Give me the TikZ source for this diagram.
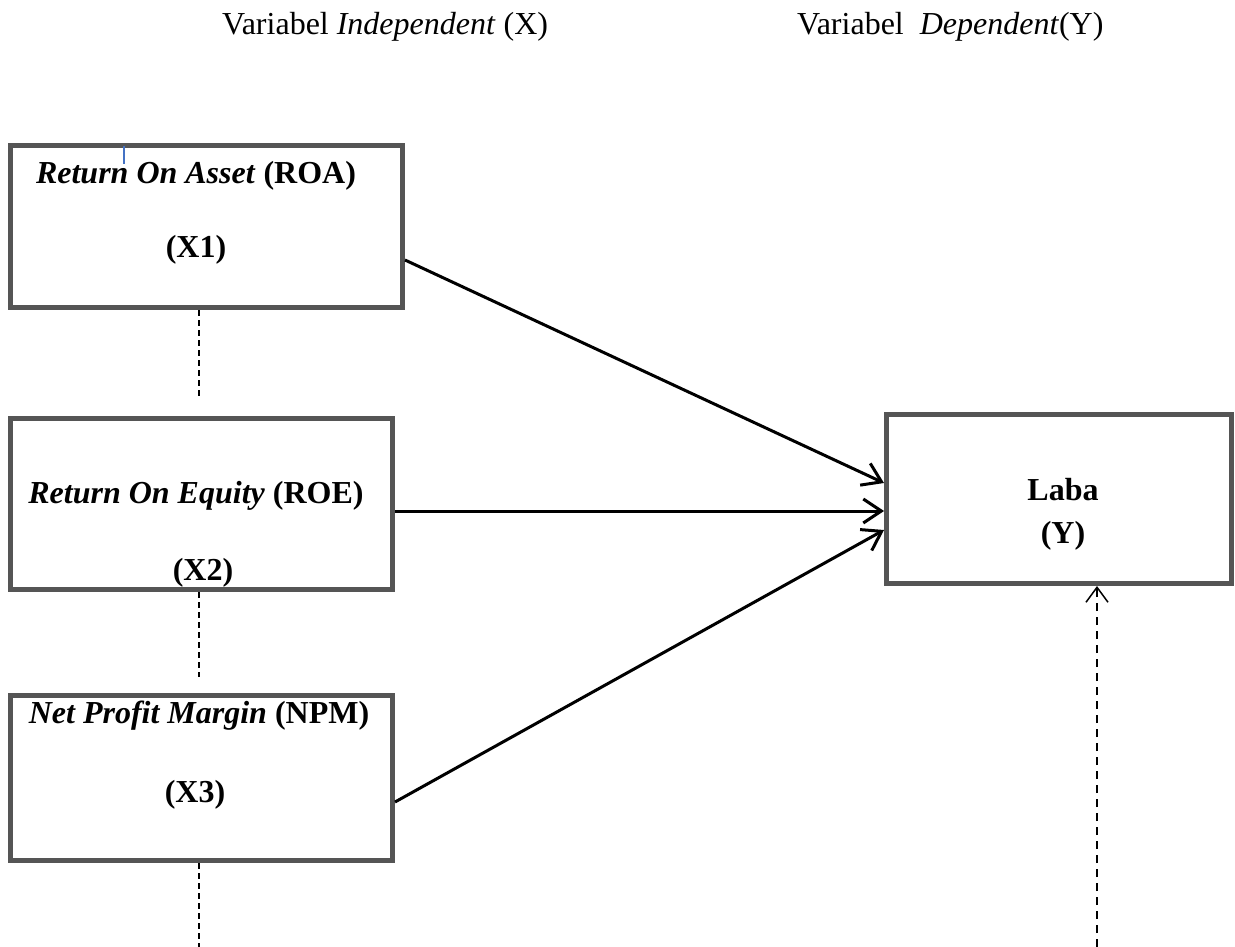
\documentclass[tikz,border=0pt]{standalone}
\usepackage{fontspec}
\setmainfont{Liberation Serif}
\usetikzlibrary{arrows.meta,calc}
\definecolor{boxgray}{RGB}{85,85,85}
\definecolor{tickblue}{RGB}{68,114,196}
\begin{document}
\begin{tikzpicture}[x=1pt,y=-1pt,
  varbox/.style={draw=boxgray,line width=5pt,rectangle,inner sep=0pt,fill=white},
  lbl/.style={inner sep=0pt,anchor=base,font=\fontsize{32}{38}\selectfont\bfseries},
  headtxt/.style={inner sep=0pt,anchor=base west,font=\fontsize{32}{38}\selectfont},
  solidarrow/.style={line width=3pt,-{Straight Barb[length=18pt,width=24pt]}},
  dashline/.style={line width=2.4pt,dash pattern=on 6pt off 4pt},
  dasharrow/.style={line width=2.4pt,dash pattern=on 8pt off 6pt,-{Straight Barb[length=15pt,width=22pt,line width=1.5pt]}}]
\useasboundingbox (0,0) rectangle (1235,947);

% headings
\node[headtxt] (hx) at (222,35) {Variabel \textit{Independent} (X)};
\node[headtxt] (hy) at (797,35) {Variabel\ \ \textit{Dependent}(Y)};

% boxes
\node[varbox,minimum width=392pt,minimum height=162pt] (b1) at (206.5,226.5) {};
\node[varbox,minimum width=382pt,minimum height=171pt] (b2) at (201.5,504) {};
\node[varbox,minimum width=382pt,minimum height=165pt] (b3) at (201.5,778) {};
\node[varbox,minimum width=345pt,minimum height=169pt] (by) at (1059,499) {};

% labels
\node[lbl] (t1a) at (196,183) {\textit{Return On Asset} (ROA)};
\node[lbl] (t1b) at (196,257) {(X1)};
\node[lbl] (t2a) at (196,503) {\textit{Return On Equity} (ROE)};
\node[lbl] (t2b) at (203,580) {(X2)};
\node[lbl] (t3a) at (199,723) {\textit{Net Profit Margin} (NPM)};
\node[lbl] (t3b) at (195,802) {(X3)};
\node[lbl] (tya) at (1063,500) {Laba};
\node[lbl] (tyb) at (1063,543) {(Y)};

% stray cursor mark
\draw[tickblue,line width=1.2pt] (124,146) -- (124,164);

% solid arrows
\draw[solidarrow] ([yshift=-33.5pt]b1.east) -- ([yshift=16pt]by.west);
\draw[solidarrow] ([yshift=-7pt]b2.east) -- ([yshift=-12pt]by.west);
\draw[solidarrow] ([yshift=-24pt]b3.east) -- ([yshift=-31pt]by.west);

% dashed lines
\coordinate (d1) at (199,399);
\coordinate (d2) at (199,677);
\coordinate (d3) at (199,947);
\coordinate (dy) at (1097,947);
\draw[dashline] ([xshift=-7.5pt]b1.south) -- (d1);
\draw[dashline] ([xshift=-2.5pt]b2.south) -- (d2);
\draw[dashline] ([xshift=-2.5pt]b3.south) -- (d3);
\draw[dasharrow] (dy) -- ([xshift=38pt]by.south);
\end{tikzpicture}
\end{document}
